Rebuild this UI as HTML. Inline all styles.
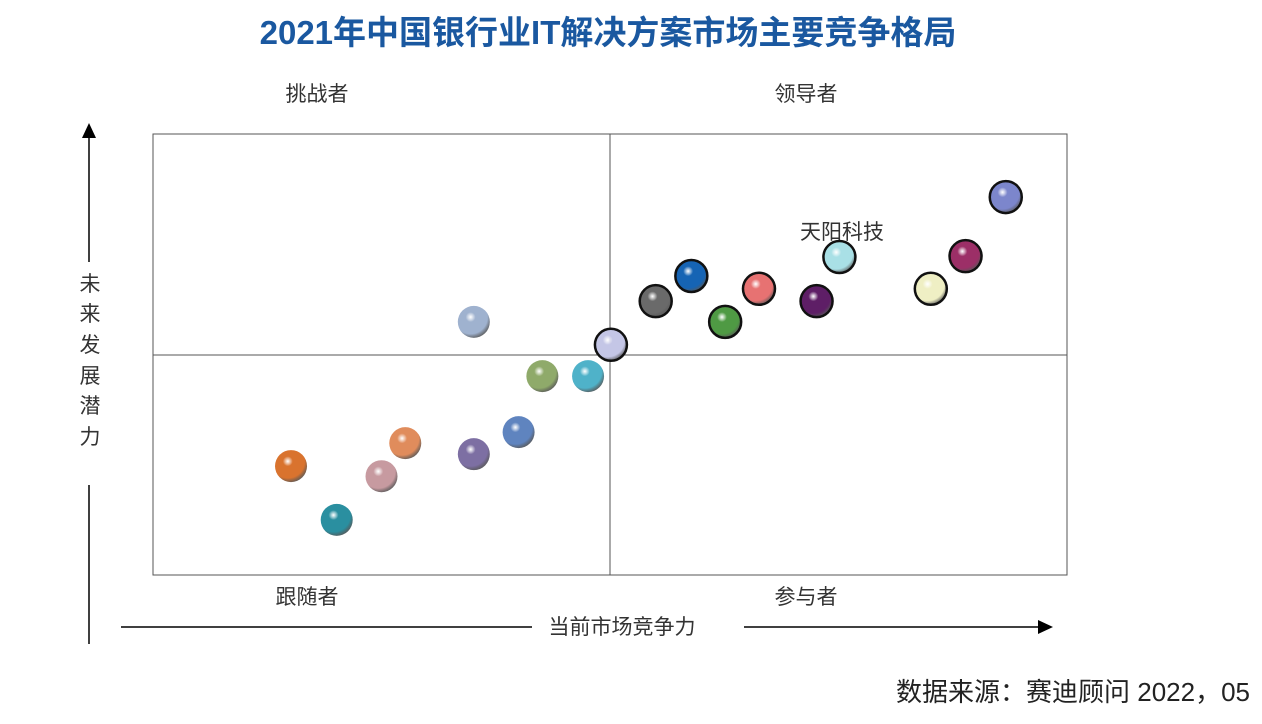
<!DOCTYPE html>
<html><head><meta charset="utf-8"><style>
body{margin:0;background:#fff;width:1262px;height:724px;overflow:hidden;font-family:"Liberation Sans","Noto Sans CJK SC",sans-serif;}
svg{display:block}
</style></head><body>
<svg id="chart" width="1262" height="724" xmlns="http://www.w3.org/2000/svg">
<defs id="defs"></defs>
<text x="608" y="44" text-anchor="middle" font-size="33" font-weight="bold" fill="#1a58a0" font-family="Liberation Sans,Noto Sans CJK SC,sans-serif">2021年中国银行业IT解决方案市场主要竞争格局</text>
<rect x="153" y="134" width="914" height="441" fill="none" stroke="#555" stroke-width="1"/>
<line x1="610" y1="134" x2="610" y2="575" stroke="#555"/>
<line x1="153" y1="355" x2="1067" y2="355" stroke="#555"/>
<g font-size="21" fill="#333" font-family="Liberation Sans,Noto Sans CJK SC,sans-serif" text-anchor="middle">
<text x="317" y="101">挑战者</text>
<text x="806" y="101">领导者</text>
<text x="307" y="604">跟随者</text>
<text x="806" y="604">参与者</text>
<text x="622" y="634">当前市场竞争力</text>
<text x="842" y="239">天阳科技</text>
</g>
<g font-size="21" fill="#333" text-anchor="middle" font-family="Liberation Sans,Noto Sans CJK SC,sans-serif">
<text x="90" y="291">未</text><text x="90" y="321">来</text><text x="90" y="352">发</text><text x="90" y="383">展</text><text x="90" y="413">潜</text><text x="90" y="444">力</text>
</g>
<line x1="89" y1="262" x2="89" y2="136" stroke="#000" stroke-width="1.5"/>
<line x1="89" y1="485" x2="89" y2="644" stroke="#000" stroke-width="1.5"/>
<polygon points="82,138 96,138 89,123" fill="#000"/>
<line x1="121" y1="627" x2="532" y2="627" stroke="#000" stroke-width="1.5"/>
<line x1="744" y1="627" x2="1040" y2="627" stroke="#000" stroke-width="1.5"/>
<polygon points="1038,620 1038,634 1053,627" fill="#000"/>
<text x="1250" y="701" text-anchor="end" font-size="26" fill="#222" font-family="Liberation Sans,Noto Sans CJK SC,sans-serif">数据来源：赛迪顾问 2022，05</text>
<g id="bubbles"></g>
</svg>
<script>
const xValues=[15.1,20.1,25.0,27.6,35.1,35.1,40.0,42.6,47.6,50.1,55.0,58.9,62.6,66.3,72.6,75.1,85.1,88.9,93.3];
const yValues=[24.7,12.5,22.4,29.9,57.4,27.4,32.4,45.1,45.1,52.2,62.1,67.8,57.4,64.9,62.1,72.1,64.9,72.3,85.7];
const colors=["#d9732e","#2a8fa0","#c79aa0","#e08c5c","#9fb2cf","#7d6fa3","#5f84bf","#8faa6a","#4fb2c9","#c4c6e6","#6a6a6a","#1664b4","#4f9a44","#e77272","#5e1e66","#a9e0e6","#efefc4","#9c2f67","#7c86cc"];
const outlined=[0,0,0,0,0,0,0,0,0,1,1,1,1,1,1,1,1,1,1];
const X0=153,W=914,Y0=575,H=441,R=16;
function sx(v){return X0+v/100*W;}
function sy(v){return Y0-v/100*H;}
const ns="http://www.w3.org/2000/svg";
const defs=document.getElementById('defs'),g=document.getElementById('bubbles');
xValues.forEach((xv,i)=>{
 const gr=document.createElementNS(ns,'radialGradient');
 gr.setAttribute('id','g'+i);gr.setAttribute('cx','0.4');gr.setAttribute('cy','0.35');gr.setAttribute('r','0.7');
 gr.innerHTML='<stop offset="0" stop-color="#fff" stop-opacity="0.9"/><stop offset="0.22" stop-color="'+colors[i]+'"/><stop offset="0.75" stop-color="'+colors[i]+'"/><stop offset="1" stop-color="#333" stop-opacity="0.8"/>';
 defs.appendChild(gr);
 const c=document.createElementNS(ns,'circle');
 
 
 c.setAttribute('cx',sx(xv));c.setAttribute('cy',sy(yValues[i]));c.setAttribute('r',R);
 c.setAttribute('fill','url(#g'+i+')');
 if(outlined[i]){c.setAttribute('stroke','#111');c.setAttribute('stroke-width','2.5');}
 g.appendChild(c);
});
</script>
</body></html>
